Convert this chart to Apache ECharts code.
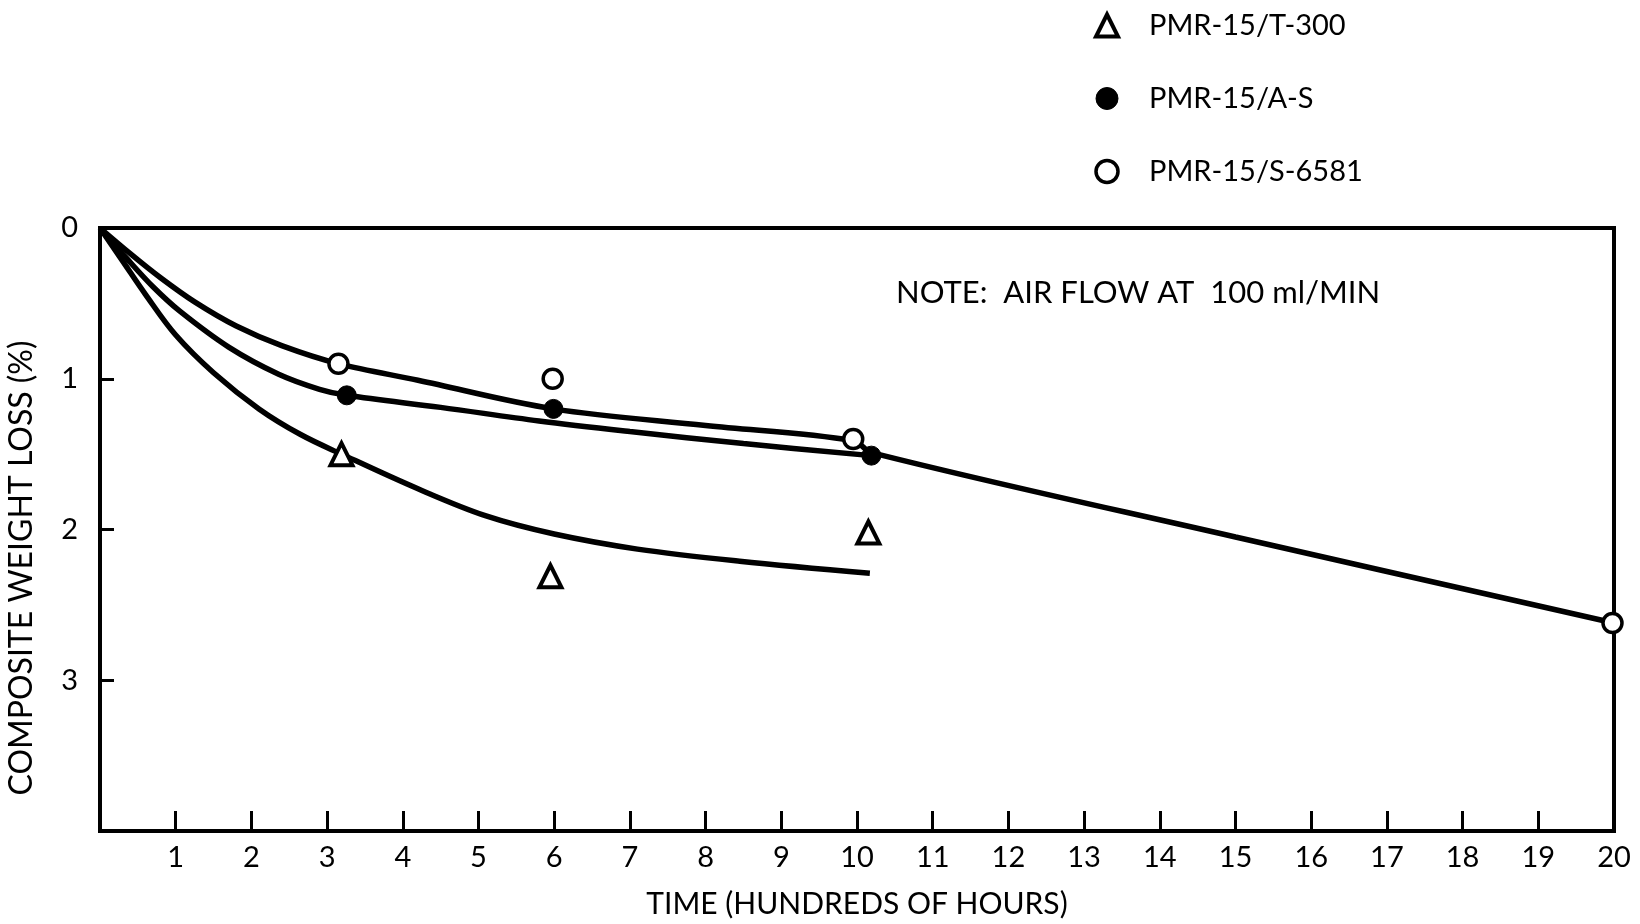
<!DOCTYPE html>
<html>
<head>
<meta charset="utf-8">
<script src="https://cdn.jsdelivr.net/npm/echarts@6/dist/echarts.min.js"></script>
<style>
  html, body { margin: 0; padding: 0; background: #fff; }
  #chart { width: 1640px; height: 924px; }
</style>
</head>
<body>
<div id="chart"></div>
<script>
var chart = echarts.init(document.getElementById("chart"));

// 图例名称
var names = ["PMR-15/T-300", "PMR-15/A-S", "PMR-15/S-6581"];

// 测量点 [时间(百小时), 失重 %]
var pts_t300 = [[3.19, 1.50], [5.95, 2.31], [10.15, 2.02]];
var pts_as = [[3.26, 1.11], [5.99, 1.20], [10.19, 1.51]];
var pts_s6581 = [[3.15, 0.90], [5.98, 1.00], [9.95, 1.40], [19.98, 2.62]];

// 拟合曲线
var fit_t300 = [[0, 0], [0.3, 0.22], [0.6, 0.44], [1.0, 0.71], [1.5, 0.96], [2.1, 1.2], [2.65, 1.37], [3.19, 1.50],
    [4.2, 1.73], [5.1, 1.91], [6.0, 2.03], [7.1, 2.13], [8.45, 2.21], [10.17, 2.29]];
var fit_as = [[0, 0], [0.35, 0.2], [0.7, 0.39], [1.05, 0.55], [1.7, 0.79], [2.36, 0.97], [2.9, 1.07], [3.26, 1.11],
    [4.5, 1.19], [5.8, 1.28], [7, 1.35], [8.5, 1.43], [10.19, 1.51]];
var fit_s6581 = [[0, 0], [0.4, 0.17], [0.8, 0.33], [1.25, 0.49], [1.8, 0.65], [2.4, 0.78], [3.15, 0.90],
    [4.2, 1.01], [5.99, 1.20], [8, 1.31], [9.95, 1.41], [10.19, 1.49], [15, 2.05], [20, 2.62]];

var font = "Lato";

// 三种标记样式，图例和散点共用
var mark_t300 = { color: '#fff', borderColor: '#000', borderWidth: 4, opacity: 1 };
var mark_as = { color: '#000', borderColor: '#000', borderWidth: 1, opacity: 1 };
var mark_s6581 = { color: '#fff', borderColor: '#000', borderWidth: 3.5, opacity: 1 };

function fitLine(data) {
    return {
        type: 'line',
        data: data,
        smooth: 0.35,
        showSymbol: false,
        symbol: 'none',
        silent: true,
        lineStyle: { color: '#000', width: 5.5 },
        z: 2
    };
}

var option = {
    backgroundColor: '#fff',
    animation: false,
    textStyle: { fontFamily: font, color: '#000' },
    grid: {
        left: 100, right: 26, top: 228, bottom: 90,
        show: true,
        borderColor: '#000',
        borderWidth: 4
    },
    legend: {
        data: [
            { name: names[0], icon: 'triangle', itemStyle: mark_t300 },
            { name: names[1], icon: 'circle', itemStyle: mark_as },
            { name: names[2], icon: 'circle', itemStyle: mark_s6581 }
        ],
        orient: 'vertical',
        left: 1089,
        top: 6,
        itemWidth: 22,
        itemHeight: 22,
        itemGap: 44,
        textStyle: { fontFamily: font, fontSize: 29, color: '#000', lineHeight: 28, padding: [0, 0, 0, 26] }
    },
    xAxis: {
        type: 'value',
        min: 0, max: 20, interval: 1,
        name: 'TIME (HUNDREDS OF HOURS)',
        nameLocation: 'middle',
        nameGap: 58,
        nameTextStyle: { fontFamily: font, fontSize: 30, color: '#000' },
        axisLine: { onZero: false, lineStyle: { color: '#000', width: 4 } },
        axisTick: { inside: true, length: 20, lineStyle: { color: '#000', width: 3 } },
        splitLine: { show: false },
        axisLabel: {
            fontSize: 29, color: '#000', margin: 12, fontFamily: font,
            formatter: function (v) { return v === 0 ? '' : String(v); }
        }
    },
    yAxis: {
        type: 'value',
        inverse: true,
        min: 0, max: 4, interval: 1,
        axisLine: { onZero: false, lineStyle: { color: '#000', width: 4 } },
        axisTick: { inside: true, length: 14, lineStyle: { color: '#000', width: 3 } },
        splitLine: { show: false },
        axisLabel: {
            fontSize: 29, color: '#000', margin: 22, fontFamily: font,
            formatter: function (v) { return v === 4 ? '' : String(v); }
        }
    },
    graphic: [
        {
            type: 'text',
            left: 896, top: 277,
            style: { text: 'NOTE:  AIR FLOW AT  100 ml/MIN', font: '31px ' + font, fill: '#000' }
        },
        {
            type: 'text',
            x: 22, y: 568,
            rotation: Math.PI / 2,
            style: {
                text: 'COMPOSITE WEIGHT LOSS (%)', font: '32px ' + font, fill: '#000',
                align: 'center', verticalAlign: 'middle'
            }
        }
    ],
    series: [
        fitLine(fit_t300),
        fitLine(fit_as),
        fitLine(fit_s6581),
        {
            name: names[0], type: 'scatter', data: pts_t300,
            symbol: 'triangle', symbolSize: 22, z: 5,
            itemStyle: mark_t300
        },
        {
            name: names[1], type: 'scatter', data: pts_as,
            symbol: 'circle', symbolSize: 19, z: 5,
            itemStyle: mark_as
        },
        {
            name: names[2], type: 'scatter', data: pts_s6581,
            symbol: 'circle', symbolSize: 19, z: 5,
            itemStyle: mark_s6581
        }
    ]
};

chart.setOption(option);
</script>
</body>
</html>
